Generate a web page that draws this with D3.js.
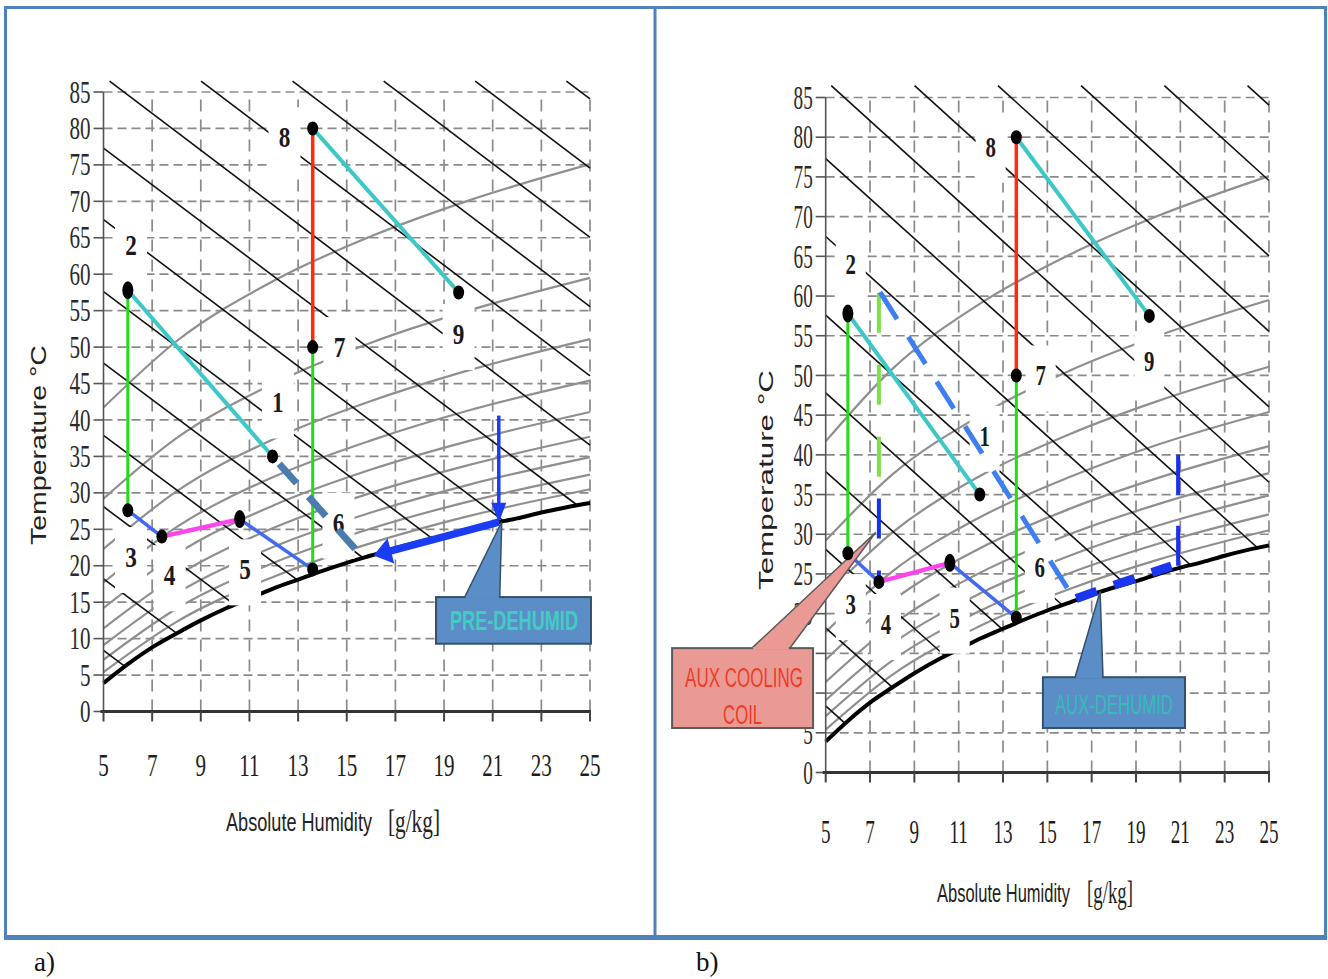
<!DOCTYPE html>
<html><head><meta charset="utf-8">
<script src="https://cdn.jsdelivr.net/npm/d3@7"></script>
<style>body{margin:0;background:#fff}svg{display:block}</style>
</head><body>
<svg id="c" width="1328" height="979"></svg>
<script>
// ---------------- DATA ----------------
const xTicks = [5,7,9,11,13,15,17,19,21,23,25];
const yTicks = [0,5,10,15,20,25,30,35,40,45,50,55,60,65,70,75,80,85];
// saturation curve (absolute humidity g/kg, temperature °C)
const satCurve = [[5,3.9],[6,6.5],[7,8.8],[8,10.7],[9,12.5],[10,14.1],[11,15.5],[12,16.9],[13,18.1],[14,19.3],[15,20.4],[16,21.4],[17,22.4],[18,23.3],[19,24.1],[20,25.0],[21,25.8],[22,26.5],[23,27.3],[24,28.0],[25,28.6]];
// relative humidity curves 10% .. 90%
const rhCurves = [
 [[5,41.7],[8,50.8],[12,59.1],[16,65.2],[20,70.1],[25,75.1]],
 [[5,29.2],[8,37.5],[12,45.0],[16,50.6],[20,55.0],[25,59.5]],
 [[5,22.3],[8,30.2],[12,37.4],[16,42.6],[20,46.8],[25,51.1]],
 [[5,17.7],[8,25.3],[12,32.2],[16,37.2],[20,41.3],[25,45.4]],
 [[5,14.2],[8,21.6],[12,28.3],[16,33.2],[20,37.1],[25,41.1]],
 [[5,11.4],[8,18.6],[12,25.2],[16,30.0],[20,33.8],[25,37.7]],
 [[5,9.1],[8,16.2],[12,22.6],[16,27.3],[20,31.1],[25,34.9]],
 [[5,7.1],[8,14.1],[12,20.4],[16,25.1],[20,28.8],[25,32.5]],
 [[5,5.4],[8,12.3],[12,18.5],[16,23.1],[20,26.8],[25,30.5]]
];
// constant enthalpy lines (end points)
const enthalpyLines = [
 [[5,8.4],[5.85,6.25]],
 [[5,18.2],[8.0,10.75]],
 [[5,28.1],[10.4,14.64]],
 [[5,37.9],[12.95,18.08]],
 [[5,47.8],[15.68,21.06]],
 [[5,57.6],[18.52,23.73]],
 [[5,67.5],[21.46,26.13]],
 [[5,77.3],[24.48,28.3]],
 [[5.25,86.5],[25,36.55]],
 [[9.01,86.5],[25,46.05]],
 [[12.77,86.5],[25,55.55]],
 [[16.52,86.5],[25,65.05]],
 [[20.28,86.5],[25,74.55]],
 [[24.03,86.5],[25,84.05]]
];
// state points
const pointIds = ["1","2","3","4","5","6","7","8","9"];
const pointX = [11.95, 6.0, 6.0, 7.4, 10.6, 13.6, 13.6, 13.6, 19.6];
const pointT = [35.0, 57.8, 27.6, 24.0, 26.4, 19.5, 50.0, 80.0, 57.5];
const labelX = [12.17, 6.13, 6.13, 7.72, 10.82, 14.66, 14.7, 12.44, 19.6];
const labelT = [42.4, 64.0, 21.2, 18.7, 19.5, 25.9, 50.0, 78.8, 51.8];
// process segments
const processSegments = [["3","2"],["2","1"],["3","4"],["4","5"],["5","6"],["6","7"],["7","8"],["8","9"]];
// panel a extras
const preDehumidDash = [[11.95,35.0],[15.75,20.8]];
const preArrowAlongSat = [[21.25,26.0],[16.1,21.4]];
const preArrowDown = [[21.25,40.6],[21.25,25.9]];
const preCalloutBox = [18.67,15.7,25.04,9.3];
const preCalloutPointer = [[19.85,15.7],[21.37,26.0],[21.29,15.7]];
// panel b extras
const auxCoolGreen = [[7.4,60.4],[7.4,37.2]];
const auxCoolBlue = [[7.4,34.5],[7.4,24.0]];
const auxDehumidDiag = [[7.45,60.5],[16.0,22.8]];
const auxDehumidSat = [[16.3,21.9],[17.5,23.1],[19.0,24.5],[20.6,26.0]];
const auxDehumidVert = [[20.9,40.0],[20.9,26.0]];
const coolCalloutBox = [-1.93,15.66,4.43,5.6];
const coolCalloutPointer = [[1.67,15.66],[7.26,30.25],[3.38,15.66]];
const dehumCalloutBox = [14.8,12.0,21.21,5.6];
const dehumCalloutPointer = [[16.25,12.0],[17.38,22.8],[17.51,12.0]];

// ---------------- DRAWING ----------------
const svg = d3.select("#c");
svg.append("rect").attr("width",1328).attr("height",979).attr("fill","#fff");

const segStyle = [
 {c:"#22dd11",w:3},{c:"#3cc8c8",w:4},{c:"#4169f0",w:3.5},{c:"#ff44ee",w:4.5},
 {c:"#4169f0",w:3.5},{c:"#22dd11",w:3},{c:"#ff2a10",w:3.5},{c:"#3cc8c8",w:4}
];

function sText(g, x, y, str, size, sx, anchor, family, fill, weight){
  return g.append("text").attr("transform",`translate(${x},${y}) scale(${sx},1)`)
    .attr("text-anchor",anchor).style("font-family",family).style("font-size",size+"px")
    .style("font-weight",weight||"normal").attr("fill",fill||"#222").text(str);
}
// text squeezed horizontally to a target width (start anchored), optional rotation
function fitText(g, x, y, str, width, size, family, fill, weight, rot){
  const t = g.append("text").style("font-family",family).style("font-size",size+"px")
    .style("font-weight",weight||"normal").attr("fill",fill||"#222").text(str);
  const nat = t.node().getComputedTextLength();
  const s = width/nat;
  t.attr("transform",`translate(${x},${y})${rot?` rotate(${rot})`:""} scale(${s},1)`);
  return t;
}

function drawPanel(cfg){
  const g = svg.append("g");
  const x = d3.scaleLinear().domain([5,25]).range(cfg.xr);
  const y = d3.scaleLinear().domain([0,85]).range(cfg.yr);
  const line = d3.line().x(d=>x(d[0])).y(d=>y(d[1]));
  const curve = d3.line().x(d=>x(d[0])).y(d=>y(d[1])).curve(d3.curveMonotoneX);

  // grid
  g.append("g").selectAll("line").data(yTicks.filter(t=>t>0)).join("line")
    .attr("x1",x(5)).attr("x2",x(25)).attr("y1",d=>y(d)).attr("y2",d=>y(d))
    .attr("stroke","#8a8a8a").attr("stroke-width",1.7).attr("stroke-dasharray","9,5");
  g.append("g").selectAll("line").data(xTicks.filter(t=>t>5)).join("line")
    .attr("x1",d=>x(d)).attr("x2",d=>x(d)).attr("y1",y(0)).attr("y2",y(85))
    .attr("stroke","#8a8a8a").attr("stroke-width",1.7).attr("stroke-dasharray","12,8");

  // RH curves
  g.append("g").selectAll("path").data(rhCurves).join("path")
    .attr("d",curve).attr("fill","none").attr("stroke","#8f8f8f").attr("stroke-width",2.2);
  // enthalpy lines
  g.append("g").selectAll("path").data(enthalpyLines).join("path")
    .attr("d",line).attr("fill","none").attr("stroke","#111").attr("stroke-width",1.6);
  // saturation
  g.append("path").datum(satCurve).attr("d",curve).attr("fill","none")
    .attr("stroke","#000").attr("stroke-width",4);

  // axes
  g.append("line").attr("x1",x(5)).attr("x2",x(5)).attr("y1",y(0)).attr("y2",y(85))
    .attr("stroke","#555").attr("stroke-width",1.6);
  g.append("g").selectAll("line").data(yTicks).join("line")
    .attr("x1",x(5)-10).attr("x2",x(5)).attr("y1",d=>y(d)).attr("y2",d=>y(d))
    .attr("stroke","#555").attr("stroke-width",1.6);
  g.append("line").attr("x1",x(5)-3).attr("x2",x(25)+1).attr("y1",y(0)).attr("y2",y(0))
    .attr("stroke","#333").attr("stroke-width",3);
  g.append("g").selectAll("line").data(xTicks).join("line")
    .attr("x1",d=>x(d)).attr("x2",d=>x(d)).attr("y1",y(0)).attr("y2",y(0)+10)
    .attr("stroke","#444").attr("stroke-width",2);

  const hidden = cfg.hideY || [];
  yTicks.filter(t=>hidden.indexOf(t)<0).forEach(t=>sText(g, x(5)-13, y(t)+cfg.tick*0.34, String(t), cfg.tick, cfg.tsx, "end", "Liberation Serif", "#2a2a2a"));
  xTicks.forEach(t=>sText(g, x(t), cfg.xlabY, String(t), cfg.tick, cfg.tsx, "middle", "Liberation Serif", "#1e1e1e"));

  // label boxes and labels
  pointIds.forEach((id,i)=>{
    const cx = x(labelX[i]), cy = y(labelT[i]);
    g.append("rect").attr("x",cx-cfg.bw/2).attr("y",cy-30).attr("width",cfg.bw).attr("height",66).attr("fill","#fff");
  });
  pointIds.forEach((id,i)=>{
    const cx = x(labelX[i]), cy = y(labelT[i]);
    sText(g, cx, cy+10, id, 29, cfg.lsx, "middle", "Liberation Serif", "#1a1a1a", "bold");
  });

  // axis titles
  fitText(g, cfg.tt[0], cfg.tt[1], "Temperature °C", cfg.tt[2], cfg.tt[3], "Liberation Sans", "#222", "normal", -90);
  fitText(g, cfg.ah[0], cfg.ah[1], "Absolute Humidity", cfg.ah[2], 25, "Liberation Sans", "#222");
  fitText(g, cfg.gk[0], cfg.gk[1], "[g/kg]", cfg.gk[2], 32, "Liberation Serif", "#222");

  const ctx = {g,x,y,line,curve};

  // process lines
  const pIdx = id => pointIds.indexOf(id);
  processSegments.forEach((s,i)=>{
    const a = pIdx(s[0]), b = pIdx(s[1]);
    g.append("path").datum([[pointX[a],pointT[a]],[pointX[b],pointT[b]]]).attr("d",line)
      .attr("stroke",segStyle[i].c).attr("stroke-width",segStyle[i].w).attr("fill","none");
  });

  cfg.extrasAfter && cfg.extrasAfter(ctx);

  // points
  pointIds.forEach((id,i)=>{
    const tall = (id==="2"||id==="5");
    g.append("ellipse").attr("cx",x(pointX[i])).attr("cy",y(pointT[i]))
      .attr("rx",5.5).attr("ry",tall?9:7).attr("fill","#000");
  });
  return ctx;
}

function arrowHead(g, p0, p1, len, wid, color){
  const dx=p1[0]-p0[0], dy=p1[1]-p0[1], L=Math.hypot(dx,dy);
  const ux=dx/L, uy=dy/L, nx=-uy, ny=ux;
  const bx=p1[0]-ux*len, by=p1[1]-uy*len;
  g.append("polygon").attr("points",[[p1[0],p1[1]],[bx+nx*wid/2,by+ny*wid/2],[bx-nx*wid/2,by-ny*wid/2]].map(p=>p.join(",")).join(" "))
    .attr("fill",color);
}

function callout(ctx, box, pointer, fill, stroke){
  const {g,x,y} = ctx;
  g.append("polygon").attr("points",pointer.map(p=>[x(p[0]),y(p[1])].join(",")).join(" "))
    .attr("fill",fill).attr("stroke",stroke).attr("stroke-width",1.5);
  g.append("rect").attr("x",x(box[0])).attr("y",y(box[1])).attr("width",x(box[2])-x(box[0]))
    .attr("height",y(box[3])-y(box[1])).attr("fill",fill).attr("stroke",stroke).attr("stroke-width",2);
  g.append("line").attr("x1",x(pointer[0][0])+1).attr("x2",x(pointer[2][0])-1)
    .attr("y1",y(box[1])).attr("y2",y(box[1])).attr("stroke",fill).attr("stroke-width",2.5);
}

// Panel a
drawPanel({
  xr:[103.5,590], yr:[711.5,92], tick:31, tsx:0.68, xlabY:776, bw:32, lsx:0.8,
  tt:[46,545,200,22], ah:[226,831,146], gk:[388,832,52],
  extrasAfter:(c)=>{
    const {g,x,y,line} = c;
    g.append("path").datum(preDehumidDash).attr("d",line).attr("stroke","#4a7cae")
      .attr("stroke-width",7).attr("stroke-dasharray","26,18").attr("stroke-dashoffset",34).attr("fill","none");
    const s0=[x(preArrowAlongSat[0][0]),y(preArrowAlongSat[0][1])], s1=[x(preArrowAlongSat[1][0]),y(preArrowAlongSat[1][1])];
    const L=Math.hypot(s1[0]-s0[0],s1[1]-s0[1]);
    const sb=[s1[0]-(s1[0]-s0[0])/L*14, s1[1]-(s1[1]-s0[1])/L*14];
    g.append("line").attr("x1",s0[0]).attr("y1",s0[1]).attr("x2",sb[0]).attr("y2",sb[1])
      .attr("stroke","#1a3cf5").attr("stroke-width",7.5);
    arrowHead(g,s0,s1,18,26,"#1a3cf5");
    const v0=[x(preArrowDown[0][0]),y(preArrowDown[0][1])], v1=[x(preArrowDown[1][0]),y(preArrowDown[1][1])];
    g.append("line").attr("x1",v0[0]).attr("y1",v0[1]).attr("x2",v1[0]).attr("y2",v1[1]-14)
      .attr("stroke","#1a3cf5").attr("stroke-width",3.5);
    arrowHead(g,v0,v1,20,15,"#1a3cf5");
    callout(c, preCalloutBox, preCalloutPointer, "#5b8ec6", "#34506e");
    fitText(g, x(preCalloutBox[0])+14, (y(preCalloutBox[1])+y(preCalloutBox[3]))/2+10, "PRE-DEHUMID", 128, 27, "Liberation Sans", "#44cbc4", "bold");
  }
});

// Panel b
drawPanel({
  xr:[825.7,1269], yr:[772.5,97.5], tick:33, tsx:0.58, xlabY:843, bw:30, lsx:0.72,
  tt:[773,590,220,20], ah:[937,902,133], gk:[1087,903,46], hideY:[10,15],
  extrasAfter:(c)=>{
    const {g,x,y,line} = c;
    g.append("path").datum(auxCoolGreen).attr("d",line).attr("stroke","#7ee046")
      .attr("stroke-width",4).attr("stroke-dasharray","40,32").attr("fill","none");
    g.append("path").datum(auxCoolBlue).attr("d",line).attr("stroke","#1230ee")
      .attr("stroke-width",4).attr("stroke-dasharray","40,32").attr("fill","none");
    g.append("path").datum(auxDehumidDiag).attr("d",line).attr("stroke","#3d7ef2")
      .attr("stroke-width",5).attr("stroke-dasharray","32,21").attr("fill","none");
    g.append("path").datum(auxDehumidSat).attr("d",c.curve).attr("stroke","#1a36f0")
      .attr("stroke-width",9).attr("stroke-dasharray","22,18").attr("fill","none");
    g.append("path").datum(auxDehumidVert).attr("d",line).attr("stroke","#1a30f0")
      .attr("stroke-width",4).attr("stroke-dasharray","40,31").attr("fill","none");
    callout(c, coolCalloutBox, coolCalloutPointer, "#e99a95", "#5a5a5a");
    const cbx = x(coolCalloutBox[0]), cby = y(coolCalloutBox[1]);
    fitText(g, cbx+13, cby+39, "AUX COOLING", 118, 28, "Liberation Sans", "#f23a25");
    fitText(g, cbx+51, cby+76, "COIL", 39, 28, "Liberation Sans", "#f23a25");
    callout(c, dehumCalloutBox, dehumCalloutPointer, "#5b8ec6", "#34506e");
    fitText(g, x(dehumCalloutBox[0])+12, (y(dehumCalloutBox[1])+y(dehumCalloutBox[3]))/2+11, "AUX-DEHUMID", 118, 28, "Liberation Sans", "#36bcb6");
  }
});

// frame
svg.append("rect").attr("x",5.5).attr("y",7.5).attr("width",1320).attr("height",930)
  .attr("fill","none").attr("stroke","#4f81bd").attr("stroke-width",3);
svg.append("line").attr("x1",4).attr("x2",1327).attr("y1",937.5).attr("y2",937.5)
  .attr("stroke","#4f81bd").attr("stroke-width",5);
svg.append("line").attr("x1",655).attr("x2",655).attr("y1",7).attr("y2",937)
  .attr("stroke","#4f81bd").attr("stroke-width",3);
svg.append("text").attr("x",34).attr("y",971).style("font-family","Liberation Serif").style("font-size","27px").attr("fill","#111").text("a)");
svg.append("text").attr("x",696).attr("y",971).style("font-family","Liberation Serif").style("font-size","27px").attr("fill","#111").text("b)");
</script>
</body></html>
